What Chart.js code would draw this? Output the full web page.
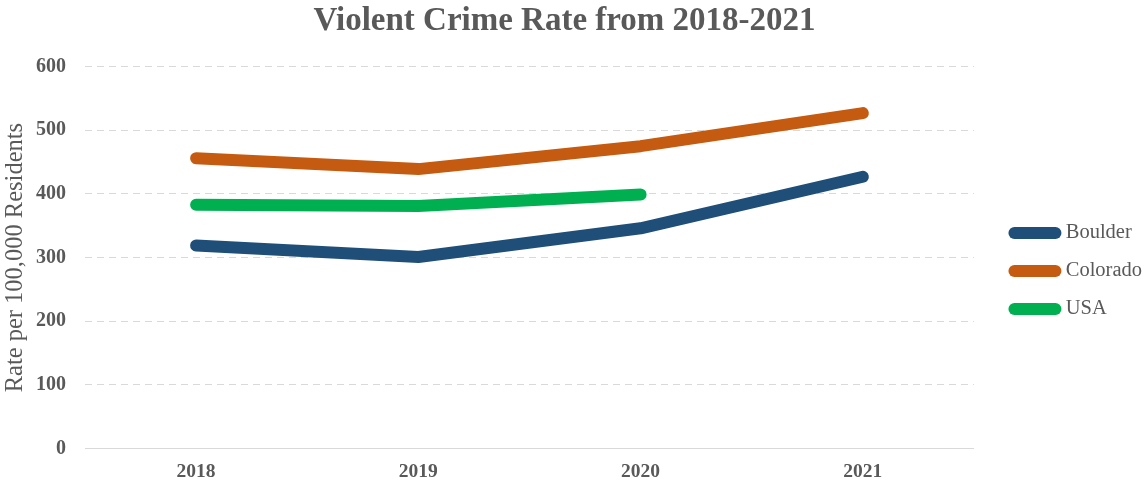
<!DOCTYPE html>
<html>
<head>
<meta charset="utf-8">
<script src="https://cdn.jsdelivr.net/npm/chart.js@4/dist/chart.umd.min.js"></script>
<style>
  html, body { margin: 0; padding: 0; background: #fff; }
  .wrap { width: 1147px; height: 485px; }
</style>
</head>
<body>
<div class="wrap"><canvas class="js-chart"></canvas></div>
<script>
const years = ['2018', '2019', '2020', '2021'];
const boulder = [319, 301, 346, 427];
const colorado = [456, 439, 475, 527];
const usa = [383, 381, 399, null];
const yTicks = [0, 100, 200, 300, 400, 500, 600];

const GREY = '#595959';
const SERIF = '"Liberation Serif", "Times New Roman", serif';

const ctx = document.querySelector('.js-chart').getContext('2d');

function lineSet(label, data, color) {
    return {
        label: label,
        data: data,
        borderColor: color,
        backgroundColor: color,
        borderWidth: 12,
        borderCapStyle: 'round',
        borderJoinStyle: 'round',
        pointRadius: 0,
        pointHoverRadius: 0,
        tension: 0,
        fill: false,
        spanGaps: false,
    };
}

// push the legend a bit right/down, away from the plot
const legendShift = {
    id: 'legendShift',
    afterLayout(chart) {
        const lg = chart.legend;
        lg.left += 23; lg.right += 23;
        lg.top += 27; lg.bottom += 27;
    }
};

new Chart(ctx, {
    type: 'line',
    data: {
        labels: years,
        datasets: [
            lineSet('Boulder', boulder, '#1F4E79'),
            lineSet('Colorado', colorado, '#C55A11'),
            lineSet('USA', usa, '#00B050'),
        ]
    },
    plugins: [legendShift],
    options: {
        responsive: true,
        maintainAspectRatio: false,
        animation: false,
        layout: { padding: { top: 0, right: 18, bottom: -3, left: 0 } },
        plugins: {
            title: {
                display: true,
                text: 'Violent Crime Rate from 2018-2021',
                color: GREY,
                font: { family: SERIF, size: 33, weight: 'bold' },
                padding: { top: 2, bottom: 25 }
            },
            legend: {
                position: 'right',
                labels: {
                    usePointStyle: true,
                    pointStyleWidth: 41,
                    boxHeight: 12,
                    padding: 17.5,
                    color: GREY,
                    font: { family: SERIF, size: 20.5 },
                    generateLabels(chart) {
                        return chart.data.datasets.map((ds, i) => ({
                            text: ds.label,
                            datasetIndex: i,
                            pointStyle: 'line',
                            strokeStyle: ds.borderColor,
                            fillStyle: ds.borderColor,
                            lineWidth: ds.borderWidth,
                            lineCap: 'round',
                            fontColor: GREY,
                            hidden: false
                        }));
                    }
                }
            },
            tooltip: { enabled: false }
        },
        scales: {
            x: {
                offset: true,
                grid: { display: false },
                border: { display: true, color: '#d9d9d9', width: 1 },
                ticks: {
                    color: GREY,
                    padding: 4,
                    font: { family: SERIF, size: 19.5, weight: 'bold' }
                }
            },
            y: {
                min: 0,
                max: 600,
                afterBuildTicks(axis) {
                    axis.ticks = yTicks.map(v => ({ value: v }));
                },
                afterFit(axis) {
                    axis.width = 85;
                },
                grid: { color: '#d9d9d9', lineWidth: 1, drawTicks: false },
                border: { display: false, dash: [7, 5] },
                ticks: {
                    color: GREY,
                    padding: 19,
                    font: { family: SERIF, size: 20, weight: 'bold' }
                },
                title: {
                    display: true,
                    text: 'Rate per 100,000 Residents',
                    color: GREY,
                    padding: { top: 1, bottom: 0 },
                    font: { family: SERIF, size: 24.5 }
                }
            }
        }
    }
});
</script>
</body>
</html>
